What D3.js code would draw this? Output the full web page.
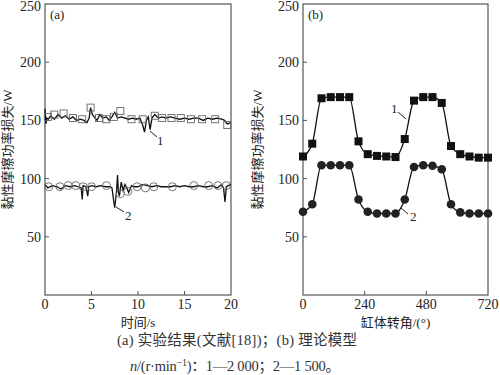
<!DOCTYPE html>
<html>
<head>
<meta charset="utf-8">
<script src="https://cdn.jsdelivr.net/npm/d3@7"></script>
<style>
  body { margin: 0; background: #fff; }
  svg text { font-family: "Liberation Serif", "Noto Sans CJK SC", serif; }
</style>
</head>
<body>
<div id="chart"></div>
<script>
// (a) experiment, time in s
var timeA1 = [0, 0.1, 0.2, 0.35, 0.6, 1.0, 1.4, 1.8, 2.2, 2.6, 3.0, 3.4, 3.8, 4.2, 4.5, 4.75, 4.9, 5.1, 5.4, 5.6, 5.9, 6.2, 6.6, 6.9, 7.2, 7.5, 7.8, 8.2, 8.6, 9.0, 9.4, 9.8, 10.2, 10.5, 10.7, 10.9, 11.1, 11.3, 11.5, 11.8, 12.2, 12.6, 13.0, 13.5, 14.0, 14.5, 15.0, 15.5, 16.0, 16.5, 17.0, 17.5, 18.0, 18.5, 19.0, 19.3, 19.6, 20];
var powerA1 = [160, 147, 152, 151, 154, 151, 155, 152, 154, 151, 153, 150, 151, 150, 148, 152, 161, 155, 152, 150, 155, 152, 153, 150, 153, 157, 152, 153, 152, 151, 152, 151, 152, 146, 140, 150, 153, 142, 152, 155, 152, 153, 152, 153, 152, 151, 152, 151, 152, 152, 150, 152, 151, 152, 151, 150, 147, 148];
var markA1t = [0.3, 1.0, 2.0, 3.0, 4.0, 4.9, 5.8, 6.6, 7.4, 8.1, 9.3, 10.5, 11.8, 12.6, 13.6, 14.6, 15.7, 16.9, 18.3, 19.6];
var markA1v = [153, 155, 156, 152, 151, 161, 152, 151, 153, 158, 151, 151, 154, 152, 152, 152, 151, 151, 151, 146];

var timeA2 = [0, 0.3, 0.8, 1.3, 1.7, 2.2, 2.7, 3.2, 3.6, 3.9, 4.0, 4.1, 4.4, 4.6, 4.7, 5.0, 5.5, 6.0, 6.5, 7.0, 7.2, 7.4, 7.5, 7.7, 7.8, 7.9, 8.0, 8.2, 8.4, 8.6, 8.8, 9.0, 9.3, 9.6, 10.0, 10.5, 11.0, 11.5, 12.0, 12.5, 13.0, 13.5, 14.0, 14.5, 15.0, 15.5, 16.0, 16.5, 17.0, 17.5, 18.0, 18.5, 19.0, 19.2, 19.35, 19.5, 19.7, 20];
var powerA2 = [95, 92, 94, 93, 91, 94, 93, 94, 93, 92, 82, 94, 93, 85, 93, 94, 93, 94, 93, 93, 92, 80, 75, 90, 103, 88, 85, 97, 90, 95, 92, 88, 94, 93, 93, 95, 94, 93, 94, 93, 93, 93, 94, 93, 94, 93, 93, 94, 93, 93, 94, 92, 95, 92, 80, 93, 94, 95];
var markA2t = [0.4, 1.6, 2.5, 3.3, 4.1, 5.0, 6.6, 8.1, 8.9, 9.9, 10.8, 11.7, 13.7, 16.0, 17.6, 18.6, 19.5];
var markA2v = [93, 93, 94, 94, 93, 93, 94, 87, 89, 93, 92, 93, 93, 94, 94, 94, 94];

// (b) model, crank angle in degrees
var angleB = [0, 36, 72, 108, 144, 180, 216, 252, 288, 324, 360, 396, 432, 468, 504, 540, 576, 612, 648, 684, 720];
var powerB1 = [119, 130, 169, 170, 170, 170, 132, 121, 119.5, 119, 118.5, 134, 167, 170, 170, 165, 128, 121, 119, 118, 118];
var powerB2 = [71.5, 78, 111.5, 111.5, 111.5, 111.5, 82, 71.5, 70, 70, 70, 82, 110, 111.5, 111, 108, 78, 71, 70, 70, 70];

var yTicks = [50, 100, 150, 200, 250];
var xTicksA = [0, 5, 10, 15, 20];
var xTicksB = [0, 240, 480, 720];

var svg = d3.select("#chart").append("svg")
  .attr("width", 500)
  .attr("height", 375);

var plotTop = 4, plotBottom = 295;
var axisColor = "#555";

function panel(x0, x1, xDomain, xTicks, tag, xLabel, yLabelX) {
  var x = d3.scaleLinear().domain(xDomain).range([x0, x1]);
  var y = d3.scaleLinear().domain([0, 250]).range([plotBottom, plotTop]);
  var g = svg.append("g");

  g.append("rect")
    .attr("x", x0).attr("y", plotTop)
    .attr("width", x1 - x0).attr("height", plotBottom - plotTop)
    .attr("fill", "none")
    .attr("stroke", axisColor)
    .attr("stroke-width", 1.2);

  // y ticks (inward) + labels
  yTicks.forEach(function (t) {
    if (t < 250) {
      g.append("line")
        .attr("x1", x0).attr("x2", x0 + 4)
        .attr("y1", y(t)).attr("y2", y(t))
        .attr("stroke", axisColor);
    }
    g.append("text")
      .attr("x", x0 - 4).attr("y", Math.max(y(t) + 5, 11))
      .attr("text-anchor", "end")
      .attr("font-size", 14)
      .attr("fill", "#222")
      .text(t);
  });

  // x ticks (inward) + labels
  xTicks.forEach(function (t) {
    if (t != xDomain[0] && t != xDomain[1]) {
      g.append("line")
        .attr("x1", x(t)).attr("x2", x(t))
        .attr("y1", plotBottom).attr("y2", plotBottom - 4)
        .attr("stroke", axisColor);
    }
    g.append("text")
      .attr("x", x(t)).attr("y", plotBottom + 14)
      .attr("text-anchor", "middle")
      .attr("font-size", 14)
      .attr("fill", "#222")
      .text(t);
  });

  g.append("text")
    .attr("x", x0 + 5).attr("y", plotTop + 15)
    .attr("font-size", 13)
    .attr("fill", "#222")
    .text(tag);

  g.append("text")
    .attr("x", (x0 + x1) / 2).attr("y", plotBottom + 32)
    .attr("text-anchor", "middle")
    .attr("font-size", 13)
    .attr("fill", "#222")
    .text(xLabel);

  g.append("text")
    .attr("transform", "translate(" + yLabelX + "," + ((plotTop + plotBottom) / 2) + ") rotate(-90)")
    .attr("text-anchor", "middle")
    .attr("font-size", 13)
    .attr("fill", "#222")
    .text("黏性摩擦功率损失/W");

  return { g: g, x: x, y: y };
}

var pa = panel(45, 231, [0, 20], xTicksA, "(a)", "时间/s", 12);
var pb = panel(303, 488, [0, 720], xTicksB, "(b)", "缸体转角/(°)", 262);

// panel (a)
var lineA = d3.line()
  .x(function (d) { return pa.x(d[0]); })
  .y(function (d) { return pa.y(d[1]); });

pa.g.append("path")
  .attr("d", lineA(d3.zip(timeA1, powerA1)))
  .attr("fill", "none").attr("stroke", "#111").attr("stroke-width", 1.3);
pa.g.append("path")
  .attr("d", lineA(d3.zip(timeA2, powerA2)))
  .attr("fill", "none").attr("stroke", "#111").attr("stroke-width", 1.3);

pa.g.selectAll(".sqA")
  .data(d3.zip(markA1t, markA1v))
  .enter().append("rect")
  .attr("x", function (d) { return pa.x(d[0]) - 3.5; })
  .attr("y", function (d) { return pa.y(d[1]) - 3.5; })
  .attr("width", 7).attr("height", 7)
  .attr("fill", "none").attr("stroke", "#666").attr("stroke-width", 0.9);

pa.g.selectAll(".ciA")
  .data(d3.zip(markA2t, markA2v))
  .enter().append("circle")
  .attr("cx", function (d) { return pa.x(d[0]); })
  .attr("cy", function (d) { return pa.y(d[1]); })
  .attr("r", 4)
  .attr("fill", "none").attr("stroke", "#666").attr("stroke-width", 0.9);

// labels 1 and 2 with leader lines
pa.g.append("line").attr("x1", 150).attr("y1", 131).attr("x2", 157).attr("y2", 137).attr("stroke", "#222");
pa.g.append("text").attr("x", 157).attr("y", 145).attr("font-size", 13).attr("fill", "#222").text("1");
pa.g.append("line").attr("x1", 116).attr("y1", 207).attr("x2", 124).attr("y2", 212).attr("stroke", "#222");
pa.g.append("text").attr("x", 125).attr("y", 220).attr("font-size", 13).attr("fill", "#222").text("2");

// panel (b)
var lineB = d3.line()
  .curve(d3.curveMonotoneX)
  .x(function (d) { return pb.x(d[0]); })
  .y(function (d) { return pb.y(d[1]); });

pb.g.append("path")
  .attr("d", lineB(d3.zip(angleB, powerB1)))
  .attr("fill", "none").attr("stroke", "#111").attr("stroke-width", 1.3);
pb.g.append("path")
  .attr("d", lineB(d3.zip(angleB, powerB2)))
  .attr("fill", "none").attr("stroke", "#111").attr("stroke-width", 1.3);

pb.g.selectAll(".sqB")
  .data(d3.zip(angleB, powerB1))
  .enter().append("rect")
  .attr("x", function (d) { return pb.x(d[0]) - 4; })
  .attr("y", function (d) { return pb.y(d[1]) - 4; })
  .attr("width", 8).attr("height", 8)
  .attr("fill", "#111");

pb.g.selectAll(".ciB")
  .data(d3.zip(angleB, powerB2))
  .enter().append("circle")
  .attr("cx", function (d) { return pb.x(d[0]); })
  .attr("cy", function (d) { return pb.y(d[1]); })
  .attr("r", 4.3)
  .attr("fill", "#222");

pb.g.append("line").attr("x1", 398).attr("y1", 112).attr("x2", 406).attr("y2", 119).attr("stroke", "#222");
pb.g.append("text").attr("x", 391).attr("y", 113).attr("font-size", 13).attr("fill", "#222").text("1");
pb.g.append("line").attr("x1", 401).attr("y1", 208).attr("x2", 408).attr("y2", 214).attr("stroke", "#222");
pb.g.append("text").attr("x", 410).attr("y", 221).attr("font-size", 13).attr("fill", "#222").text("2");

// caption
svg.append("text")
  .attr("x", 117).attr("y", 345)
  .attr("font-size", 14.5)
  .attr("fill", "#333")
  .attr("textLength", 240)
  .attr("lengthAdjust", "spacing")
  .text("(a) 实验结果(文献[18])；(b) 理论模型");

var cap2 = svg.append("text")
  .attr("x", 130).attr("y", 371)
  .attr("font-size", 14.5)
  .attr("fill", "#333")
  .attr("textLength", 210)
  .attr("lengthAdjust", "spacing");
cap2.append("tspan").attr("font-style", "italic").text("n");
cap2.append("tspan").text("/(r·min");
cap2.append("tspan").attr("dy", -5).attr("font-size", 10).text("−1");
cap2.append("tspan").attr("dy", 5).text(")：1—2 000；2—1 500。");
</script>
</body>
</html>
